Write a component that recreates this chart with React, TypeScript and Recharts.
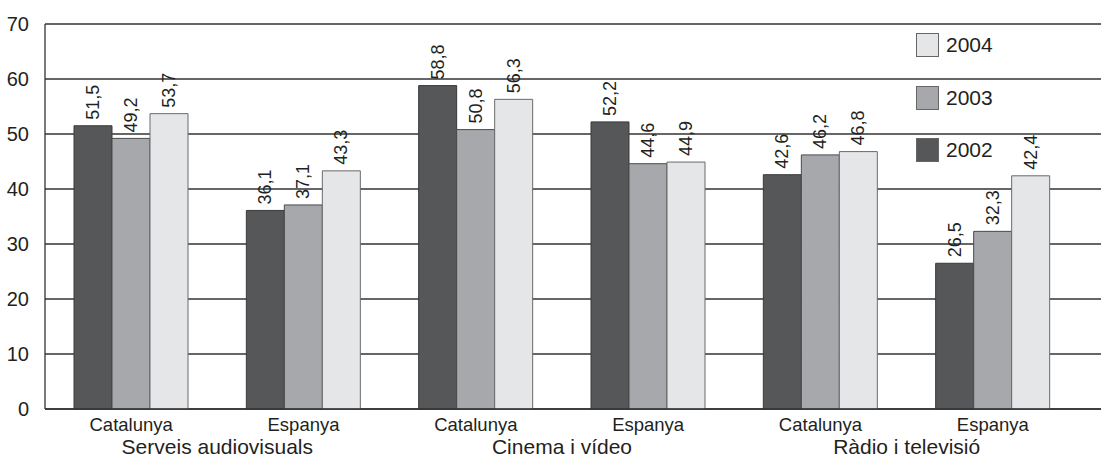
import * as React from "react"
import { BarChart, Bar, XAxis, YAxis, CartesianGrid, LabelList } from "recharts"

document.body.style.margin = "0"

const categories = ["Catalunya", "Espanya", "Catalunya", "Espanya", "Catalunya", "Espanya"]
const groups = [
    "Serveis audiovisuals",
    "Serveis audiovisuals",
    "Cinema i vídeo",
    "Cinema i vídeo",
    "Ràdio i televisió",
    "Ràdio i televisió",
]
const values2002 = [51.5, 36.1, 58.8, 52.2, 42.6, 26.5]
const values2003 = [49.2, 37.1, 50.8, 44.6, 46.2, 32.3]
const values2004 = [53.7, 43.3, 56.3, 44.9, 46.8, 42.4]
const yTicks = [0, 10, 20, 30, 40, 50, 60, 70]

const series = [
    { key: "y2002", name: "2002", fill: "#555759", stroke: "#3a3a3a" },
    { key: "y2003", name: "2003", fill: "#a7a8ab", stroke: "#4a4a4a" },
    { key: "y2004", name: "2004", fill: "#e5e6e8", stroke: "#6a6a6a" },
]

const data = categories.map((c, i) => ({
    category: c,
    group: groups[i],
    y2002: values2002[i],
    y2003: values2003[i],
    y2004: values2004[i],
}))

const FONT = "'Liberation Sans', Arial, sans-serif"
const TEXT = "#231f20"

const renderValueLabel = (props: any) => {
    const { x, y, width, value } = props
    const cx = x + width / 2
    const cy = y - 6
    return (
        <text
            x={cx}
            y={cy}
            transform={`rotate(-90, ${cx}, ${cy})`}
            textAnchor="start"
            dominantBaseline="central"
            fontSize={18}
            fontFamily={FONT}
            fill={TEXT}
        >
            {String(value).replace(".", ",")}
        </text>
    )
}

function ChartLegend() {
    const items = [...series].reverse()
    return (
        <div
            style={{
                position: "absolute",
                left: 916,
                top: 33,
                fontFamily: FONT,
                color: TEXT,
            }}
        >
            {items.map((s) => (
                <div
                    key={s.name}
                    style={{ display: "flex", alignItems: "center", height: 52.5 }}
                >
                    <div
                        style={{
                            width: 21,
                            height: 22,
                            background: s.fill,
                            border: "1px solid #666",
                            marginRight: 7,
                            alignSelf: "flex-start",
                        }}
                    />
                    <span style={{ fontSize: 21, alignSelf: "flex-start", lineHeight: "24px" }}>
                        {s.name}
                    </span>
                </div>
            ))}
        </div>
    )
}

export default function App() {
    return (
        <div style={{ position: "relative", width: 1101, height: 459 }}>
            <BarChart
                width={1101}
                height={459}
                data={data}
                margin={{ top: 24, right: 0, left: 0, bottom: 0 }}
                barGap={0}
            >
                <CartesianGrid vertical={false} stroke="#333" strokeWidth={1.3} />
                <XAxis
                    dataKey="category"
                    xAxisId={0}
                    padding={{ left: 0, right: 22 }}
                    height={24}
                    tickLine={false}
                    axisLine={{ stroke: "#333", strokeWidth: 1.3 }}
                    tick={{ fontSize: 18.5, fontFamily: FONT, fill: TEXT }}
                    tickMargin={3}
                    interval={0}
                />
                <XAxis
                    dataKey="group"
                    xAxisId="group"
                    allowDuplicatedCategory={false}
                    padding={{ left: 0, right: 22 }}
                    height={26}
                    tickLine={false}
                    axisLine={false}
                    tick={{ fontSize: 21, fontFamily: FONT, fill: TEXT }}
                    tickMargin={0}
                    interval={0}
                />
                <YAxis
                    domain={[0, 70]}
                    ticks={yTicks}
                    width={45}
                    tickLine={false}
                    axisLine={{ stroke: "#333", strokeWidth: 1.3 }}
                    tick={{ fontSize: 20, fontFamily: FONT, fill: TEXT }}
                    tickMargin={10}
                />
                {series.map((s) => (
                    <Bar
                        key={s.key}
                        dataKey={s.key}
                        name={s.name}
                        xAxisId={0}
                        fill={s.fill}
                        stroke={s.stroke}
                        strokeWidth={1}
                        barSize={38}
                        isAnimationActive={false}
                    >
                        <LabelList dataKey={s.key} content={renderValueLabel} />
                    </Bar>
                ))}
            </BarChart>
            <ChartLegend />
        </div>
    )
}
